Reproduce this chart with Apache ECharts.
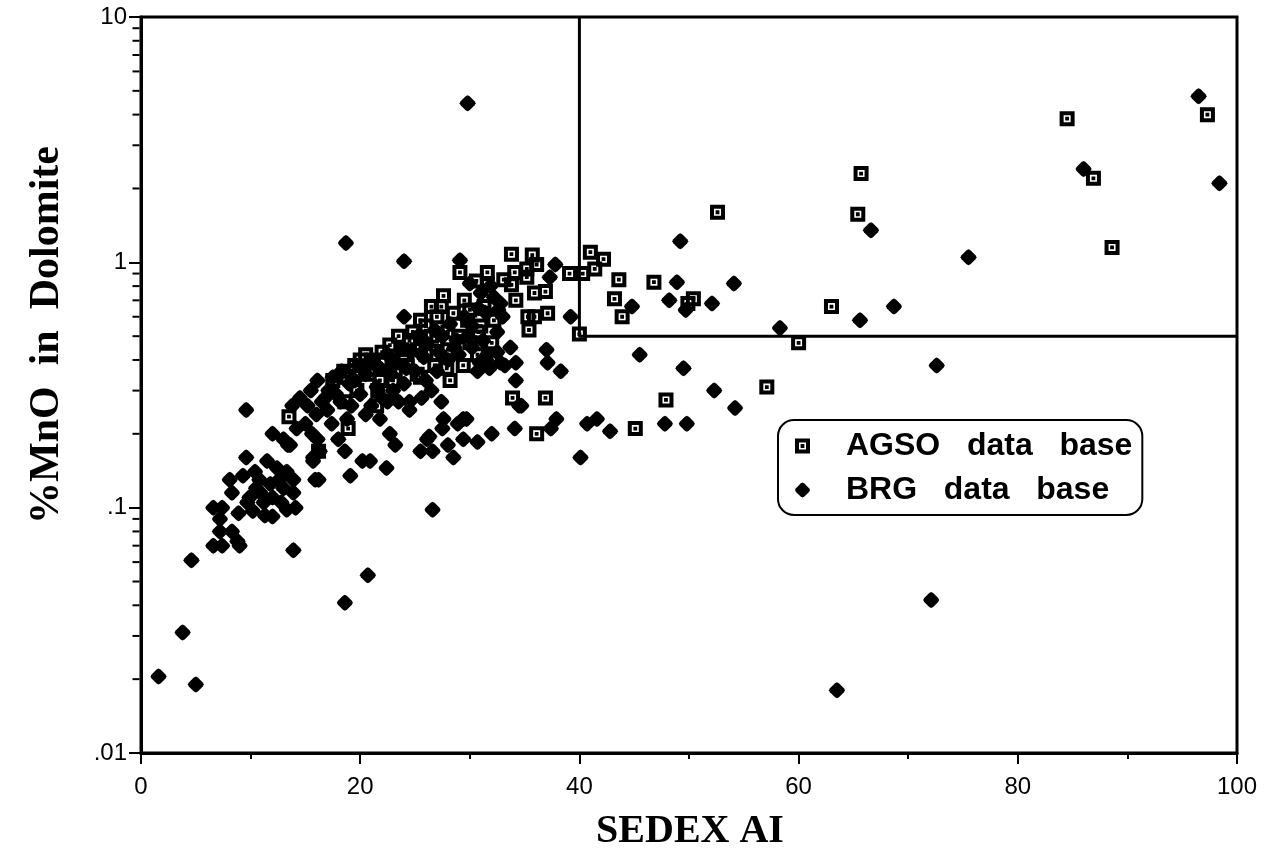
<!DOCTYPE html>
<html><head><meta charset="utf-8">
<script src="https://cdn.jsdelivr.net/npm/echarts@6/dist/echarts.min.js"></script>
<style>html,body{margin:0;padding:0;background:#fff}#c{width:1271px;height:854px}</style>
</head><body><div id="c"></div>
<script>
const seriesNames = ['AGSO data base', 'BRG data base'];
const xTitle = 'SEDEX AI';
const yTitle = '%MnO  in  Dolomite';
const xRange = [0, 100];
const yRange = [0.01, 10];
const yMinorTickValues = [0.02,0.03,0.04,0.05,0.06,0.07,0.08,0.09,0.2,0.3,0.4,0.5,0.6,0.7,0.8,0.9,2,3,4,5,6,7,8,9];
const boxLine = [[40,10],[40,0.5],[100,0.5]];

const agsoPoints = [
[84.5,3.85],[97.3,4.0],[86.9,2.2],[65.7,2.3],[65.4,1.57],[88.6,1.15],[52.6,1.6],[63.0,0.66],[60.0,0.47],[57.1,0.31],[47.9,0.275],[45.1,0.21],[41.0,1.1],[42.2,1.03],[41.4,0.94],[39.1,0.9],[40.3,0.9],[43.6,0.85],[46.8,0.83],[43.2,0.71],[43.9,0.6],[50.4,0.71],[49.9,0.68],[40.0,0.51],
[33.8,1.08],[35.7,1.07],[36.1,0.98],[35.2,0.94],[34.1,0.91],[31.6,0.91],[29.1,0.91],[31.6,0.81],[33.8,0.81],[35.2,0.87],[33.1,0.85],[30.6,0.84],[35.9,0.75],[36.9,0.76],[34.2,0.7],[37.1,0.62],[35.3,0.6],[35.9,0.6],[35.4,0.53],[27.6,0.73],[27.4,0.66],[26.5,0.66],[31.3,0.66],[30.0,0.64],[32.2,0.58],[30.8,0.52],[32.0,0.47],[25.5,0.58],[29.4,0.38],[27.9,0.37],[25.2,0.35],[24.3,0.38],[25.5,0.45],[22.7,0.46],[21.5,0.26],[18.6,0.27],[21.6,0.3],[19.7,0.3],[23.0,0.33],[13.5,0.235],[33.9,0.28],[36.9,0.28],[36.1,0.2],[28.2,0.33],[18.9,0.21],[30.7,0.42],[25.2,0.44],[25.5,0.34],[22.9,0.39],[21.8,0.33],[20.0,0.4],[18.8,0.34],[16.2,0.17],
[17.5,0.33],[18.5,0.36],[19.5,0.38],[20.5,0.42],[21.2,0.4],[22.0,0.43],[23.5,0.5],[24.5,0.48],[26.0,0.55],[27.0,0.6],[28.5,0.62],[29.5,0.7],[28.0,0.52],[26.5,0.5],[24.0,0.42],[23.2,0.36],[20.8,0.35],[26.0,0.42],[27.0,0.48],[28.0,0.44],[29.0,0.5],[30.0,0.47],[31.0,0.55],[23.8,0.44],[26.8,0.38],[24.8,0.52],[29.8,0.58]
];

const brgPoints = [
[1.6,0.0205],[3.8,0.031],[5.0,0.019],[4.6,0.061],[13.9,0.067],[18.6,0.041],[20.7,0.053],[26.6,0.098],
[29.8,4.45],[18.7,1.2],[24.0,1.01],[29.1,1.02],[24.0,0.6],
[72.1,0.042],[63.5,0.018],[96.5,4.75],[98.4,2.1],[86.0,2.4],[66.6,1.35],[75.5,1.05],[68.7,0.66],[65.6,0.58],[58.3,0.54],[72.6,0.38],
[54.1,0.82],[52.1,0.68],[49.2,1.22],[48.9,0.83],[48.2,0.7],[49.7,0.64],[44.8,0.66],[45.5,0.42],[49.5,0.37],[52.3,0.30],[54.2,0.255],[49.8,0.22],[47.8,0.22],[42.8,0.205],[41.6,0.23],[40.7,0.22],[40.1,0.16],[39.2,0.6],[37.8,0.98],[37.3,0.87],
[33.7,0.45],[37.0,0.44],[37.1,0.39],[38.3,0.36],[34.2,0.39],[34.2,0.33],[34.5,0.26],[37.9,0.23],[37.4,0.21],[34.1,0.21],[32.0,0.2],[29.4,0.23],[28.9,0.22],[30.7,0.185],[29.4,0.19],[27.6,0.23],[27.4,0.27],[27.5,0.21],[26.1,0.19],[25.5,0.17],[26.6,0.17],[28.0,0.18],[28.5,0.16],[25.6,0.28],[24.5,0.27],[24.5,0.25],[22.7,0.2],[23.2,0.18],[22.5,0.27],[21.8,0.23],[20.2,0.155],[18.6,0.17],[16.3,0.17],[15.6,0.2],[15.7,0.16],[13.4,0.18],[17.4,0.22],[18.0,0.19],
[16.2,0.13],[19.1,0.135],[20.9,0.155],[22.4,0.145],[26.3,0.195],[29.7,0.23],[34.7,0.26],
[9.6,0.25],[12.0,0.2],[13.0,0.19],[13.6,0.18],[9.6,0.16],[11.5,0.155],[12.4,0.145],[13.3,0.14],[8.1,0.13],[9.3,0.135],[10.4,0.14],[8.3,0.115],[9.9,0.11],[10.9,0.115],[12.0,0.11],[13.0,0.12],[13.9,0.13],[13.9,0.115],[6.6,0.1],[7.4,0.1],[8.9,0.095],[9.7,0.105],[10.2,0.097],[11.3,0.093],[12.0,0.092],[13.3,0.098],[14.1,0.1],[7.2,0.09],[7.2,0.08],[8.3,0.08],[6.6,0.07],[7.4,0.07],[8.8,0.073],[9.0,0.07],[15.9,0.13],[15.7,0.155],[16.1,0.19],
[10.8,0.13],[11.8,0.125],[12.6,0.13],[11.2,0.105],[12.8,0.105],[10.5,0.12],
[14.5,0.28],[15.2,0.26],[16.1,0.33],[17.1,0.3],[17.5,0.34],[18.3,0.36],[19.0,0.32],[19.8,0.38],[20.5,0.35],[21.0,0.4],[21.8,0.37],[22.5,0.42],[23.2,0.39],[23.8,0.45],[24.6,0.43],[25.3,0.5],[26.0,0.47],[26.8,0.53],[27.5,0.5],[28.2,0.56],[28.8,0.48],[29.5,0.6],[30.2,0.55],[30.8,0.65],[31.5,0.62],[32.2,0.72],[32.8,0.68],[30.0,0.82],[31.0,0.75],[30.2,0.45],[31.5,0.4],[32.5,0.43],[33.2,0.38],[29.0,0.42],[28.0,0.4],[27.0,0.36],[26.0,0.33],[25.0,0.36],[24.0,0.32],[23.0,0.3],[22.0,0.28],[21.0,0.26],[20.0,0.29],[19.2,0.26],[18.2,0.27],[17.0,0.25],[16.0,0.24],[15.0,0.22],[14.2,0.21],[13.8,0.26],[16.8,0.28],[18.8,0.23],[20.5,0.24],[30.9,0.39],[31.8,0.37],[32.8,0.39],[30.7,0.36],[31.6,0.42],[32.6,0.64],
[19.5,0.33],[21.5,0.31],[22.8,0.35],[24.2,0.37],[25.8,0.41],[27.2,0.43],[28.6,0.45],[29.8,0.5],[31.2,0.48],[32.5,0.52],[33.0,0.6],[31.9,0.8],[17.8,0.29],[16.5,0.27],[15.5,0.3],[23.5,0.27],[26.5,0.3]
];

const squareSym = 'path://M0,0H15V15H0Z M4,4V11H11V4Z M5.6,5.6H9.4V9.4H5.6Z';
const diamondSym = 'path://M8,0L10,1L15,6L16,8L15,10L10,15L8,16L6,15L1,10L0,8L1,6L6,1Z';
const labelFont = 'Liberation Sans';
const titleFont = 'Liberation Serif';

const chart = echarts.init(document.getElementById('c'), null, {renderer: 'canvas'});
chart.setOption({
  backgroundColor: '#fff',
  animation: false,
  grid: {left: 141, right: 34, top: 17, bottom: 101, show: true, borderColor: '#000', borderWidth: 3, backgroundColor: 'transparent'},
  legend: {
    data: seriesNames,
    orient: 'vertical',
    left: 778, top: 420,
    padding: [10, 10, 9, 17],
    itemGap: 12,
    itemWidth: 15, itemHeight: 15,
    borderColor: '#000', borderWidth: 2, borderRadius: 16,
    formatter: n => n.replace(/ /g, '   '),
    textStyle: {fontFamily: labelFont, fontWeight: 'bold', fontSize: 32, color: '#000', padding: [0, 0, 0, 31], lineHeight: 32}
  },
  graphic: [
    {type: 'text', silent: true, x: 690, y: 832,
      style: {text: xTitle, font: 'bold 40px "' + titleFont + '"', fill: '#000', textAlign: 'center', textVerticalAlign: 'middle'}},
    {type: 'text', silent: true, rotation: Math.PI / 2, x: 47, y: 335,
      style: {text: yTitle, font: 'bold 42px "' + titleFont + '"', fill: '#000', textAlign: 'center', textVerticalAlign: 'middle'}}
  ],
  xAxis: {
    type: 'value', min: xRange[0], max: xRange[1], interval: 20,
    axisLine: {show: true, onZero: false, lineStyle: {color: '#000', width: 3}},
    axisTick: {show: true, inside: false, length: 11, lineStyle: {color: '#000', width: 2}},
    minorTick: {show: true, splitNumber: 2, length: 6, lineStyle: {color: '#000', width: 2}},
    axisLabel: {color: '#000', fontFamily: labelFont, fontSize: 24, margin: 22},
    splitLine: {show: false}
  },
  yAxis: {
    type: 'log', logBase: 10, min: yRange[0], max: yRange[1],
    axisLine: {show: true, onZero: false, lineStyle: {color: '#000', width: 3}},
    axisTick: {show: true, inside: false, length: 12, lineStyle: {color: '#000', width: 2}},
    axisLabel: {color: '#000', fontFamily: labelFont, fontSize: 24, margin: 14,
      formatter: v => v >= 1 ? String(Math.round(v)) : String(v).replace(/^0/, '')},
    splitLine: {show: false}
  },
  series: [
    {
      name: 'minor ticks', type: 'scatter', data: yMinorTickValues.map(v => [0, v]),
      symbol: 'rect', symbolSize: [7, 2], symbolOffset: [-5, 0], clip: false, silent: true,
      itemStyle: {color: '#000', opacity: 1}, z: 5
    },
    {
      name: 'box', type: 'line', data: boxLine, showSymbol: false, symbol: 'none', silent: true,
      lineStyle: {color: '#000', width: 3}, z: 1
    },
    {
      name: seriesNames[1], type: 'scatter', data: brgPoints,
      symbol: diamondSym, symbolSize: 16, itemStyle: {color: '#000', opacity: 1}, z: 2
    },
    {
      name: seriesNames[0], type: 'scatter', data: agsoPoints,
      symbol: squareSym, symbolSize: 15, itemStyle: {color: '#000', opacity: 1}, z: 3
    }
  ]
});
</script></body></html>
